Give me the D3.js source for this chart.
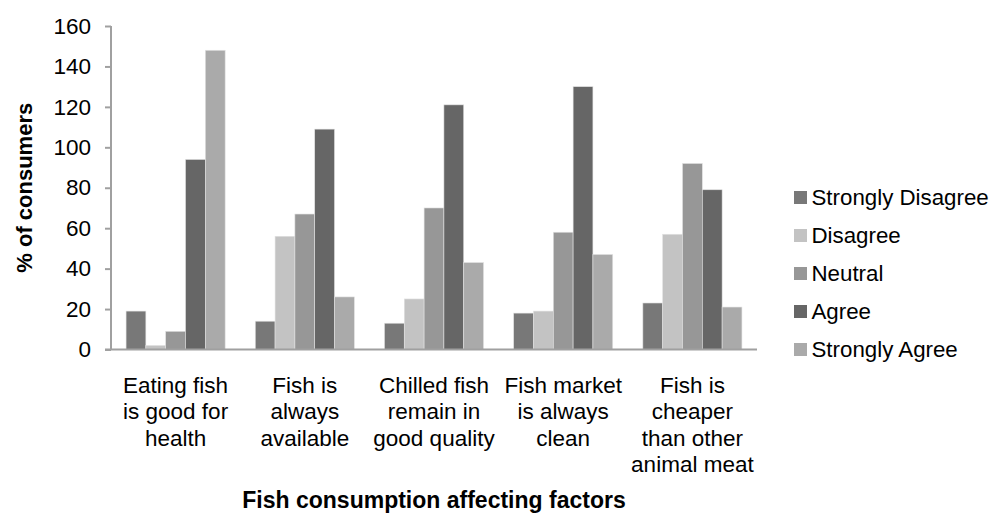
<!DOCTYPE html>
<html>
<head>
<meta charset="utf-8">
<script src="https://cdn.jsdelivr.net/npm/d3@7/dist/d3.min.js"></script>
<style>
	body { margin: 0; background: #fff; }
	.axis path, .axis line { stroke: #a0a0a0; stroke-width: 2; }
</style>
</head>
<body>
<div id="chart"></div>
<script>
// Data
const categories = [
	["Eating fish", "is good for", "health"],
	["Fish is", "always", "available"],
	["Chilled fish", "remain in", "good quality"],
	["Fish market", "is always", "clean"],
	["Fish is", "cheaper", "than other", "animal meat"]
];
const seriesNames = ["Strongly Disagree", "Disagree", "Neutral", "Agree", "Strongly Agree"];
const stronglyDisagree = [19, 14, 13, 18, 23];
const disagree = [2, 56, 25, 19, 57];
const neutral = [9, 67, 70, 58, 92];
const agree = [94, 109, 121, 130, 79];
const stronglyAgree = [148, 26, 43, 47, 21];
const yTicks = [0, 20, 40, 60, 80, 100, 120, 140, 160];
const colors = ["#787878", "#c3c3c3", "#979797", "#666666", "#aaaaaa"];

const series = [stronglyDisagree, disagree, neutral, agree, stronglyAgree];
const font = '"Liberation Sans", Arial, sans-serif';

const width = 993, height = 516,
	margin = {top: 26, right: 236, bottom: 166.5, left: 111},
	innerWidth = width - margin.left - margin.right,
	innerHeight = height - margin.top - margin.bottom;

const svg = d3.select('#chart')
	.append('svg')
		.attr('width', width)
		.attr('height', height);

const chart = svg.append('g')
	.attr('transform', `translate(${margin.left}, ${margin.top})`);

// Scales
const x0 = d3.scaleBand()
	.domain(d3.range(categories.length))
	.range([0, innerWidth]);

const x1 = d3.scaleBand()
	.domain(d3.range(seriesNames.length))
	.range([0, x0.bandwidth()])
	.paddingOuter(0.76);

const y = d3.scaleLinear()
	.domain([0, 160])
	.range([innerHeight, 0]);

// Y axis
const yAxis = chart.append('g')
	.classed('axis', true)
	.call(d3.axisLeft(y).tickValues(yTicks).tickSize(6).tickPadding(14));
yAxis.select('.domain').attr('d', `M0,0V${innerHeight}`);
yAxis.selectAll('text')
	.attr('font-size', 22.5)
	.attr('font-family', font)
	.attr('fill', '#000');

// Bars
const groups = chart.selectAll('.group')
	.data(categories)
	.enter()
	.append('g')
		.attr('transform', (d, i) => `translate(${x0(i)},0)`);

groups.selectAll('rect')
	.data((d, i) => series.map((s, j) => ({s: j, v: s[i]})))
	.enter()
	.append('rect')
		.attr('x', d => x1(d.s))
		.attr('width', x1.bandwidth())
		.attr('y', d => y(d.v))
		.attr('height', d => innerHeight - y(d.v))
		.style('fill', d => colors[d.s])
		.style('stroke', '#e2e2e2')
		.style('stroke-width', 0.6);

// X axis line
chart.append('line')
	.attr('x1', -6)
	.attr('x2', innerWidth)
	.attr('y1', innerHeight)
	.attr('y2', innerHeight)
	.style('stroke', '#a0a0a0')
	.style('stroke-width', 2);

// Category labels, one text per line
chart.selectAll('.cat-label')
	.data(categories.flatMap((lines, i) => lines.map((t, k) => ({i, k, t}))))
	.enter()
	.append('text')
		.classed('cat-label', true)
		.attr('text-anchor', 'middle')
		.attr('x', d => x0(d.i) + x0.bandwidth() / 2)
		.attr('y', d => innerHeight + 43 + d.k * 26.6)
		.attr('font-size', 22.5)
		.attr('font-family', font)
		.attr('fill', '#000')
		.text(d => d.t);

// Axis titles
svg.append('text')
	.attr('x', margin.left + innerWidth / 2)
	.attr('y', 508)
	.attr('text-anchor', 'middle')
	.attr('font-size', 23)
	.attr('font-weight', 'bold')
	.attr('font-family', font)
	.attr('fill', '#000')
	.text('Fish consumption affecting factors');

svg.append('text')
	.attr('transform', `translate(32, ${margin.top + innerHeight / 2}) rotate(-90)`)
	.attr('text-anchor', 'middle')
	.attr('font-size', 22)
	.attr('font-weight', 'bold')
	.attr('font-family', font)
	.attr('fill', '#000')
	.text('% of consumers');

// Legend
const legend = svg.append('g')
	.attr('transform', 'translate(794, 197.5)');

const items = legend.selectAll('g')
	.data(seriesNames)
	.enter()
	.append('g')
		.attr('transform', (d, i) => `translate(0, ${i * 38})`);

items.append('rect')
	.attr('x', 0)
	.attr('y', -6.5)
	.attr('width', 13)
	.attr('height', 13)
	.style('fill', (d, i) => colors[i]);

items.append('text')
	.attr('x', 17.5)
	.attr('y', 7.5)
	.attr('font-size', 22.3)
	.attr('font-family', font)
	.attr('fill', '#000')
	.text(d => d);
</script>
</body>
</html>
